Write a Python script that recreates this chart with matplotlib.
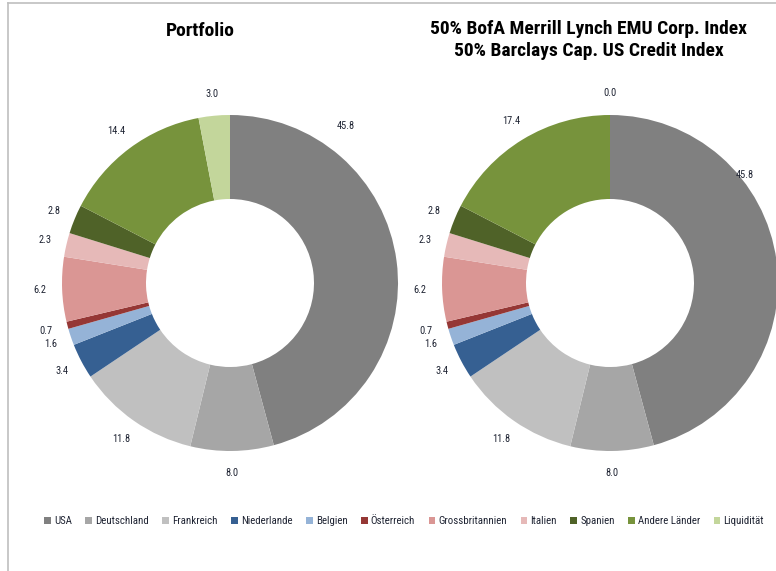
import numpy as np
import matplotlib
matplotlib.use("Agg")
import matplotlib.pyplot as plt
from matplotlib.patches import Patch
from matplotlib import font_manager
from matplotlib.lines import Line2D

categories = ["USA", "Deutschland", "Frankreich", "Niederlande", "Belgien", "Österreich",
              "Grossbritannien", "Italien", "Spanien", "Andere Länder", "Liquidität"]
portfolio = [45.8, 8.0, 11.8, 3.4, 1.6, 0.7, 6.2, 2.3, 2.8, 14.4, 3.0]
benchmark = [45.8, 8.0, 11.8, 3.4, 1.6, 0.7, 6.2, 2.3, 2.8, 17.4, 0.0]
titles = ["Portfolio", "50% BofA Merrill Lynch EMU Corp. Index\n50% Barclays Cap. US Credit Index"]

colors = ["#808080", "#a6a6a6", "#c0c0c0", "#366092", "#95b3d7", "#953735",
          "#da9694", "#e6b9b8", "#4f6228", "#77933c", "#c3d69b"]

avail = {f.name for f in font_manager.fontManager.ttflist}
prefs = ["Roboto Condensed", "Archivo Narrow", "Sofia Sans Condensed", "Saira SemiCondensed"]
fam = [f for f in prefs if f in avail][:1] + ["DejaVu Sans"]
plt.rcParams['font.family'] = fam

W, H = 776, 571
fig = plt.figure(figsize=(W / 100, H / 100), dpi=100)
fig.patch.set_facecolor("white")

R = 168.0
half = 1.3 * R
centers = [(230, 283), (610, 283)]
title_pos = [(200, 31), (589, 40)]
usa_override = [(53.6, 1.16), (38.7, 1.03)]
label_color = "#1f2433"

for k, (vals, title) in enumerate(zip([portfolio, benchmark], titles)):
    cx, cy = centers[k]
    ax = fig.add_axes([(cx - half) / W, (H - cy - half) / H, 2 * half / W, 2 * half / H])
    ax.pie(vals, colors=colors, startangle=90, counterclock=False, radius=1.0,
           wedgeprops=dict(width=0.5, linewidth=0), frame=True)
    ax.set_xlim(-1.3, 1.3)
    ax.set_ylim(-1.3, 1.3)
    ax.axis("off")
    total = sum(vals)
    cum = 0.0
    for i, v in enumerate(vals):
        mid = 90 - 360 * (cum + v / 2) / total
        cum += v
        r = 1.13
        if i == 0:
            mid, r = usa_override[k]
        x = r * np.cos(np.radians(mid))
        y = r * np.sin(np.radians(mid))
        ax.text(x, y, f"{v:.1f}", ha="center", va="center", fontsize=7.5, color=label_color)
    tx, ty = title_pos[k]
    fig.text(tx / W, 1 - ty / H, title, ha="center", va="center", fontsize=14,
             fontweight="bold", color="black", linespacing=1.3)

handles = [Patch(facecolor=c, edgecolor="none") for c in colors]
fig.legend(handles, categories, loc="center left", bbox_to_anchor=(41 / W, 1 - 521 / H),
           ncol=len(categories), frameon=False, fontsize=7.8, handlelength=0.6,
           handleheight=0.6, handletextpad=0.3, columnspacing=1.25, labelcolor=label_color,
           borderaxespad=0, borderpad=0.3)

fig.add_artist(Line2D([8 / W, 8 / W], [0, 1 - 3 / H], color="#bfbfbf", lw=1.2, transform=fig.transFigure))
fig.add_artist(Line2D([8 / W, 1], [1 - 3 / H, 1 - 3 / H], color="#bfbfbf", lw=1.2, transform=fig.transFigure))

fig.savefig("out.png", dpi=100)
